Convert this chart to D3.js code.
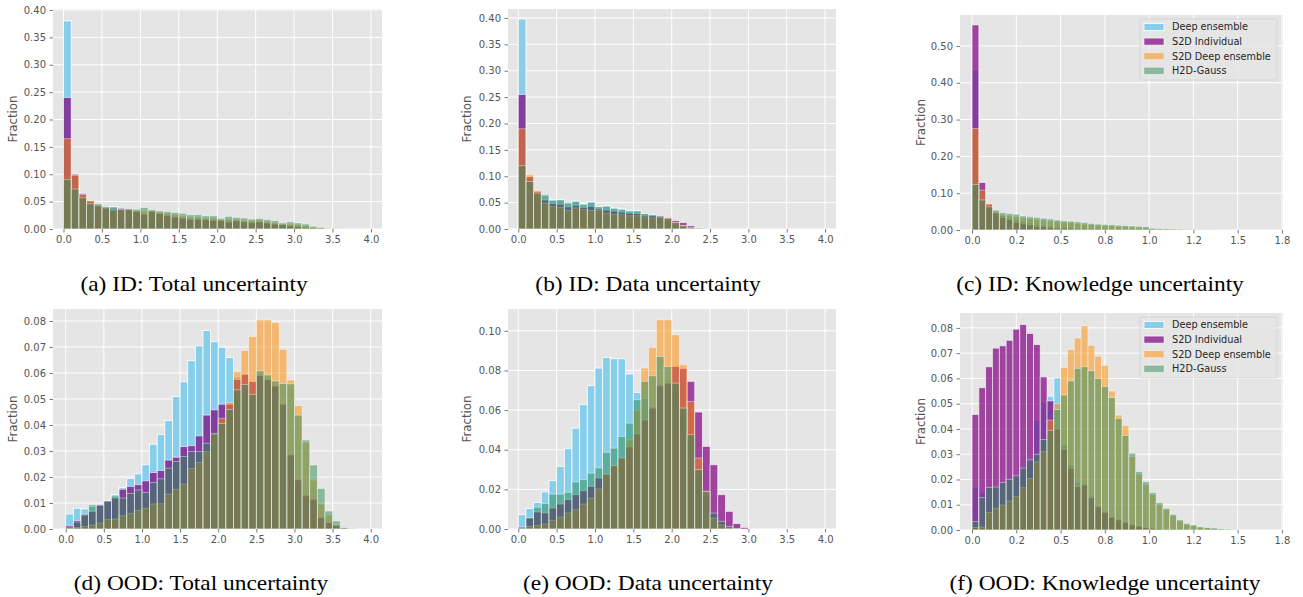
<!DOCTYPE html>
<html>
<head>
<meta charset="utf-8">
<script src="https://cdn.jsdelivr.net/npm/d3@7"></script>
<style>
body{margin:0;background:#fff}
svg text{font-family:"DejaVu Sans",sans-serif}
</style>
</head>
<body>
<svg id="chart" width="1303" height="597"></svg>
<script>
var SERIES_NAMES = ['Deep ensemble', 'S2D Individual', 'S2D Deep ensemble', 'H2D-Gauss']
var SERIES_COLORS = ['#87ceeb', '#800080', '#ff8c00', '#2e8b57']
var SERIES_ALPHA = [1, 0.7, 0.5, 0.5]
var PANEL_BG = '#e5e5e5'
var TICK_GREY = '#555555'

// x ticks
var wideTicks = [0, 0.5, 1, 1.5, 2, 2.5, 3, 3.5, 4]
var wideLabels = ['0.0', '0.5', '1.0', '1.5', '2.0', '2.5', '3.0', '3.5', '4.0']
var knowTicks = [0, 0.25, 0.5, 0.75, 1, 1.25, 1.5, 1.75]
var knowLabels = ['0.0', '0.2', '0.5', '0.8', '1.0', '1.2', '1.5', '1.8']

// y ticks
var idTicks = [0, 0.05, 0.10, 0.15, 0.20, 0.25, 0.30, 0.35, 0.40]
var idKnowTicks = [0, 0.10, 0.20, 0.30, 0.40, 0.50]
var oodTotalTicks = [0, 0.01, 0.02, 0.03, 0.04, 0.05, 0.06, 0.07, 0.08]
var oodDataTicks = [0, 0.02, 0.04, 0.06, 0.08, 0.10]
var oodKnowTicks = [0, 0.01, 0.02, 0.03, 0.04, 0.05, 0.06, 0.07, 0.08]

// (a) ID total uncertainty, bins of 0.1
var idTotalDeep = [0.380,0.097,0.062,0.050,0.042,0.038,0.041,0.037,0.035,0.032,0.028,0.032,0.028,0.025,0.022,0.0195,0.018,0.018,0.017,0.016,0.0155,0.013,0.015,0.013,0.012,0.013,0.011,0.009,0.008,0.006,0.005,0.003,0.002,0.001,0.0005,0.0002]
var idTotalS2dInd = [0.240,0.100,0.065,0.051,0.042,0.038,0.036,0.038,0.035,0.032,0.027,0.032,0.028,0.025,0.022,0.020,0.018,0.018,0.017,0.016,0.0155,0.013,0.015,0.013,0.012,0.013,0.011,0.009,0.008,0.006,0.005,0.003,0.002,0.001,0.0005,0.0002]
var idTotalS2dEns = [0.165,0.098,0.063,0.052,0.044,0.039,0.034,0.035,0.036,0.034,0.033,0.034,0.031,0.029,0.026,0.024,0.022,0.022,0.020,0.020,0.017,0.018,0.018,0.016,0.015,0.016,0.014,0.012,0.009,0.009,0.008,0.006,0.003,0.002,0.0008,0.0003]
var idTotalH2d = [0.090,0.073,0.057,0.046,0.046,0.041,0.040,0.036,0.037,0.036,0.039,0.035,0.033,0.032,0.030,0.0286,0.026,0.026,0.024,0.024,0.0195,0.023,0.021,0.020,0.018,0.019,0.017,0.015,0.011,0.013,0.011,0.009,0.005,0.003,0.001,0.0005,0.0002]

// (b) ID data uncertainty
var idDataDeep = [0.398,0.098,0.070,0.063,0.056,0.056,0.051,0.053,0.048,0.052,0.043,0.044,0.040,0.038,0.035,0.035,0.029,0.027,0.021,0.016,0.009,0.004,0.001,0.0003]
var idDataS2dInd = [0.255,0.099,0.071,0.055,0.048,0.047,0.042,0.045,0.041,0.043,0.038,0.036,0.034,0.032,0.030,0.029,0.026,0.025,0.025,0.022,0.016,0.012,0.006,0.002,0.0005]
var idDataS2dEns = [0.190,0.103,0.073,0.049,0.043,0.041,0.035,0.040,0.037,0.035,0.035,0.030,0.028,0.027,0.025,0.025,0.023,0.021,0.022,0.022,0.013,0.007,0.002,0.0003]
var idDataH2d = [0.120,0.090,0.068,0.065,0.054,0.055,0.049,0.052,0.046,0.050,0.042,0.043,0.039,0.037,0.034,0.034,0.029,0.027,0.024,0.020,0.012,0.006,0.002,0.0005]

// (c) ID knowledge uncertainty, narrow bins
var idKnowDeep = [0.435,0.110,0.068,0.048,0.040,0.034,0.028,0.024,0.020,0.016,0.014,0.012,0.010,0.009,0.008,0.007,0.006,0.0055,0.005,0.0045,0.004,0.0035,0.003,0.003,0.0025,0.002,0.0015,0.0012,0.001,0.0008,0.0006,0.0005,0.0004,0.0003,0.0002,0.0001]
var idKnowS2dInd = [0.557,0.129,0.070,0.046,0.034,0.028,0.021,0.017,0.014,0.010,0.009,0.007,0.005,0.0045,0.0036,0.003,0.0025,0.002,0.0018,0.0015,0.0012,0.001,0.0008,0.0006,0.0005,0.0004,0.0003,0.0002,0.0002,0.0001]
var idKnowS2dEns = [0.276,0.108,0.072,0.050,0.042,0.040,0.037,0.033,0.031,0.029,0.027,0.025,0.023,0.021,0.020,0.018,0.016,0.014,0.013,0.012,0.011,0.010,0.009,0.008,0.007,0.006,0.004,0.003,0.0025,0.002,0.0015,0.0012,0.001,0.0007,0.0005,0.0003,0.0002]
var idKnowH2d = [0.124,0.0815,0.063,0.054,0.047,0.045,0.043,0.038,0.036,0.034,0.032,0.030,0.027,0.025,0.024,0.022,0.020,0.018,0.016,0.015,0.014,0.013,0.012,0.011,0.010,0.009,0.005,0.004,0.0035,0.003,0.0025,0.002,0.0015,0.0012,0.001,0.0008,0.0005,0.0003]

// (d) OOD total uncertainty
var oodTotalDeep = [0.0058,0.0080,0.0077,0.0087,0.0093,0.0110,0.0132,0.0160,0.0195,0.0212,0.0247,0.0326,0.0364,0.0417,0.0509,0.0566,0.0647,0.0704,0.0763,0.0720,0.0699,0.0660,0.0585,0.0540,0.0500,0.0586,0.0573,0.0547,0.0477,0.0278,0.0182,0.0120,0.0110,0.0040,0.0022,0.0012,0.0004,0.0001]
var oodTotalS2dInd = [0.0014,0.0033,0.0057,0.0068,0.0094,0.0108,0.0119,0.0153,0.0164,0.0170,0.0185,0.0217,0.0225,0.0265,0.0276,0.0317,0.0320,0.0358,0.0438,0.0458,0.0480,0.0480,0.0575,0.0595,0.0567,0.0590,0.0575,0.0550,0.0480,0.0285,0.0190,0.0130,0.0115,0.0045,0.0025,0.0015,0.0005,0.0002]
var oodTotalS2dEns = [0.0003,0.0006,0.0010,0.0015,0.0023,0.0036,0.0038,0.0051,0.0059,0.0072,0.0080,0.0096,0.0097,0.0134,0.0153,0.0173,0.0233,0.0256,0.0297,0.0364,0.0426,0.0487,0.0605,0.0686,0.0740,0.0804,0.0804,0.0794,0.0691,0.0573,0.0474,0.0333,0.0188,0.0096,0.0054,0.0015,0.0004,0.0001]
var oodTotalH2d = [0.0008,0.0027,0.0054,0.0093,0.0090,0.0107,0.0127,0.0119,0.0137,0.0150,0.0141,0.0179,0.0193,0.0234,0.0260,0.0279,0.0298,0.0298,0.0330,0.0368,0.0406,0.0460,0.0535,0.0556,0.0518,0.0608,0.0592,0.0569,0.0559,0.0558,0.0438,0.0342,0.0246,0.0156,0.0069,0.0031,0.0006,0.0002]

// (e) OOD data uncertainty
var oodDataDeep = [0.0072,0.0103,0.0134,0.0187,0.0244,0.0316,0.0405,0.0509,0.0627,0.0723,0.0812,0.0866,0.0859,0.0859,0.0782,0.0689,0.0660,0.0620,0.0720,0.0730,0.0700,0.0580,0.0450,0.0280,0.0170,0.0085,0.0035,0.0012,0.0003]
var oodDataS2dInd = [0.0013,0.0055,0.0086,0.0081,0.0106,0.0126,0.0148,0.0173,0.0193,0.0215,0.0257,0.0276,0.0320,0.0360,0.0415,0.0480,0.0550,0.0610,0.0725,0.0736,0.0820,0.0810,0.0745,0.0590,0.0417,0.0324,0.0173,0.0089,0.0027,0.0008]
var oodDataS2dEns = [0.0003,0.0013,0.0018,0.0025,0.0044,0.0060,0.0081,0.0097,0.0126,0.0156,0.0202,0.0279,0.0319,0.0358,0.0450,0.0600,0.0812,0.0916,0.1055,0.1055,0.0980,0.0830,0.0644,0.0358,0.0190,0.0055,0.0020,0.0005]
var oodDataH2d = [0.0008,0.0058,0.0110,0.0128,0.0176,0.0176,0.0185,0.0237,0.0249,0.0282,0.0308,0.0387,0.0408,0.0467,0.0534,0.0652,0.0745,0.0773,0.0870,0.0820,0.0736,0.0610,0.0476,0.0300,0.0190,0.0080,0.0039,0.0013,0.0003]

// (f) OOD knowledge uncertainty
var oodKnowDeep = [0.0171,0.0147,0.0172,0.0175,0.0190,0.0204,0.0220,0.0250,0.0283,0.0435,0.0507,0.0530,0.0602,0.0340,0.0260,0.0190,0.0185,0.0135,0.0098,0.0075,0.0055,0.0045,0.0035,0.0025,0.0018,0.0012,0.0008,0.0006,0.0004,0.0002]
var oodKnowS2dInd = [0.0457,0.0563,0.0646,0.0720,0.0729,0.0751,0.0795,0.0813,0.0778,0.0734,0.0606,0.0511,0.0400,0.0320,0.0245,0.0172,0.0178,0.0128,0.0092,0.0070,0.0050,0.0040,0.0030,0.0020,0.0015,0.0010,0.0007,0.0005,0.0003,0.0002]
var oodKnowS2dEns = [0.0010,0.0012,0.0070,0.0086,0.0099,0.0115,0.0132,0.0167,0.0204,0.0270,0.0310,0.0435,0.0500,0.0643,0.0714,0.0760,0.0808,0.0731,0.0688,0.0652,0.0550,0.0455,0.0413,0.0290,0.0220,0.0180,0.0140,0.0100,0.0080,0.0055,0.0035,0.0022,0.0016,0.0010,0.0008,0.0006,0.0003,0.0002]
var oodKnowH2d = [0.0033,0.0128,0.0168,0.0170,0.0188,0.0200,0.0215,0.0245,0.0278,0.0300,0.0358,0.0395,0.0477,0.0534,0.0590,0.0640,0.0646,0.0630,0.0600,0.0568,0.0524,0.0442,0.0374,0.0304,0.0231,0.0191,0.0148,0.0108,0.0086,0.0062,0.0040,0.0026,0.0020,0.0013,0.0010,0.0008,0.0005,0.0004,0.0002]

var WIDE_BIN = 0.1
var KNOW_BIN = 0.0385

var panels = [
  {caption: '(a) ID: Total uncertainty', series: [idTotalDeep, idTotalS2dInd, idTotalS2dEns, idTotalH2d],
   bin: WIDE_BIN, box: [53, 382, 9, 229], xDomain: [-0.137, 4.144], yMax: 0.4018,
   xTicks: wideTicks, xLabels: wideLabels, yTicks: idTicks, labelX: 13, capX: 194, capY: 291},
  {caption: '(b) ID: Data uncertainty', series: [idDataDeep, idDataS2dInd, idDataS2dEns, idDataH2d],
   bin: WIDE_BIN, box: [508, 836, 9, 229], xDomain: [-0.134, 4.142], yMax: 0.417,
   xTicks: wideTicks, xLabels: wideLabels, yTicks: idTicks, labelX: 467, capX: 648, capY: 291},
  {caption: '(c) ID: Knowledge uncertainty', series: [idKnowDeep, idKnowS2dInd, idKnowS2dEns, idKnowH2d],
   bin: KNOW_BIN, box: [960, 1283, 15, 230], xDomain: [-0.068, 1.756], yMax: 0.584,
   xTicks: knowTicks, xLabels: knowLabels, yTicks: idKnowTicks, labelX: 921, capX: 1100, capY: 291, legend: true},
  {caption: '(d) OOD: Total uncertainty', series: [oodTotalDeep, oodTotalS2dInd, oodTotalS2dEns, oodTotalH2d],
   bin: WIDE_BIN, box: [53, 382, 309, 529], xDomain: [-0.167, 4.148], yMax: 0.0846,
   xTicks: wideTicks, xLabels: wideLabels, yTicks: oodTotalTicks, labelX: 13, capX: 201, capY: 590},
  {caption: '(e) OOD: Data uncertainty', series: [oodDataDeep, oodDataS2dInd, oodDataS2dEns, oodDataH2d],
   bin: WIDE_BIN, box: [508, 836, 309, 529], xDomain: [-0.134, 4.142], yMax: 0.111,
   xTicks: wideTicks, xLabels: wideLabels, yTicks: oodDataTicks, labelX: 467, capX: 648, capY: 590},
  {caption: '(f) OOD: Knowledge uncertainty', series: [oodKnowDeep, oodKnowS2dInd, oodKnowS2dEns, oodKnowH2d],
   bin: KNOW_BIN, box: [960, 1283, 313, 530], xDomain: [-0.068, 1.756], yMax: 0.0859,
   xTicks: knowTicks, xLabels: knowLabels, yTicks: oodKnowTicks, labelX: 921, capX: 1105, capY: 590, legend: true}
]

var svg = d3.select('#chart')
panels.forEach(draw_panel)

function draw_panel(p){
  var left = p.box[0], right = p.box[1], top = p.box[2], bottom = p.box[3]
  var x = d3.scaleLinear().domain(p.xDomain).range([left, right])
  var y = d3.scaleLinear().domain([0, p.yMax]).range([bottom, top])
  var g = svg.append('g')

  g.append('rect')
    .attr('x', left).attr('y', top)
    .attr('width', right - left).attr('height', bottom - top)
    .attr('fill', PANEL_BG)

  // white grid under the bars
  g.append('g').selectAll('line').data(p.xTicks).enter().append('line')
    .attr('x1', function(d){ return x(d) }).attr('x2', function(d){ return x(d) })
    .attr('y1', top).attr('y2', bottom)
    .attr('stroke', '#fff').attr('stroke-width', 1)
  g.append('g').selectAll('line').data(p.yTicks).enter().append('line')
    .attr('y1', function(d){ return y(d) }).attr('y2', function(d){ return y(d) })
    .attr('x1', left).attr('x2', right)
    .attr('stroke', '#fff').attr('stroke-width', 1)

  // histograms, drawn in legend order
  p.series.forEach(function(values, s){
    g.append('g').selectAll('rect')
      .data(values.map(function(v, i){ return {i: i, v: v} }).filter(function(d){ return d.v > 0 }))
      .enter().append('rect')
      .attr('x', function(d){ return x(d.i * p.bin) })
      .attr('width', function(d){ return x((d.i + 1) * p.bin) - x(d.i * p.bin) })
      .attr('y', function(d){ return y(d.v) })
      .attr('height', function(d){ return y(0) - y(d.v) })
      .attr('fill', SERIES_COLORS[s])
      .attr('fill-opacity', SERIES_ALPHA[s])
      .attr('stroke', '#fff')
      .attr('stroke-opacity', SERIES_ALPHA[s])
      .attr('stroke-width', 0.8)
  })

  var xAxis = d3.axisBottom(x).tickValues(p.xTicks)
    .tickFormat(function(d, i){ return p.xLabels[i] })
    .tickSize(3.5).tickPadding(3)
  var yAxis = d3.axisLeft(y).tickValues(p.yTicks)
    .tickFormat(d3.format('.2f'))
    .tickSize(3.5).tickPadding(3.5)

  var gx = g.append('g').attr('transform', 'translate(0,' + bottom + ')').call(xAxis)
  var gy = g.append('g').attr('transform', 'translate(' + left + ',0)').call(yAxis)
  ;[gx, gy].forEach(function(a){
    a.select('.domain').remove()
    a.selectAll('.tick line').attr('stroke', TICK_GREY).attr('stroke-width', 0.8)
    a.selectAll('.tick text').attr('fill', TICK_GREY).attr('font-size', '10px')
      .attr('font-family', '"DejaVu Sans", sans-serif')
  })

  g.append('text')
    .attr('transform', 'translate(' + p.labelX + ',' + ((top + bottom) / 2) + ') rotate(-90)')
    .attr('text-anchor', 'middle')
    .attr('dy', '0.35em')
    .attr('fill', TICK_GREY)
    .attr('font-size', '11.8px')
    .text('Fraction')

  if(p.legend) draw_legend(g, right, top)

  g.append('text')
    .attr('transform', 'translate(' + p.capX + ',' + p.capY + ') scale(1.17,1)')
    .attr('text-anchor', 'middle')
    .attr('fill', '#000')
    .attr('font-size', '20px')
    .style('font-family', '"Liberation Serif", "Times New Roman", serif')
    .text(p.caption)
}

function draw_legend(g, right, top){
  var w = 137, h = 61
  var lx = right - 6 - w, ly = top + 4
  var lg = g.append('g').attr('transform', 'translate(' + lx + ',' + ly + ')')
  lg.append('rect')
    .attr('width', w).attr('height', h).attr('rx', 2)
    .attr('fill', PANEL_BG).attr('fill-opacity', 0.8)
    .attr('stroke', '#cccccc').attr('stroke-opacity', 0.8).attr('stroke-width', 0.8)
  var rows = lg.selectAll('g.row').data(SERIES_NAMES).enter().append('g')
    .attr('class', 'row')
    .attr('transform', function(d, i){ return 'translate(0,' + (8 + i * 14.6) + ')' })
  rows.append('rect')
    .attr('x', 4).attr('y', -3.5).attr('width', 20).attr('height', 7)
    .attr('fill', function(d, i){ return SERIES_COLORS[i] })
    .attr('fill-opacity', function(d, i){ return SERIES_ALPHA[i] })
    .attr('stroke', '#fff')
    .attr('stroke-opacity', function(d, i){ return SERIES_ALPHA[i] })
    .attr('stroke-width', 0.8)
  rows.append('text')
    .attr('x', 32).attr('dy', '0.35em')
    .attr('font-size', '9.7px')
    .attr('fill', '#262626')
    .text(function(d){ return d })
}
</script>
</body>
</html>
